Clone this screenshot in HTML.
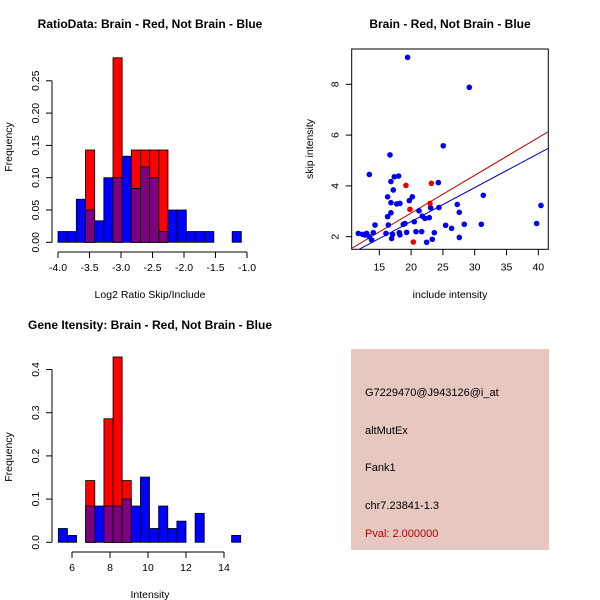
<!DOCTYPE html>
<html><head><meta charset="utf-8"><style>
body{margin:0;background:#fff}
svg{display:block;font-family:"Liberation Sans",sans-serif}
</style></head><body>
<svg id="c" width="600" height="600" viewBox="0 0 600 600" xmlns="http://www.w3.org/2000/svg">
<rect width="600" height="600" fill="#fff"/>
<g id="g1"></g>
<g id="g2"></g>
<g id="g3"></g>
<g>
<rect x="351" y="349" width="198" height="201" fill="#e6c8c0"/>
<text x="365" y="396" font-size="11">G7229470@J943126@i_at</text>
<text x="365" y="434" font-size="11">altMutEx</text>
<text x="365" y="471" font-size="11">Fank1</text>
<text x="365" y="509" font-size="11">chr7.23841-1.3</text>
<text x="365" y="537" font-size="11" fill="#b00000">Pval: 2.000000</text>
</g>
</svg>
<script>
// Ratio histogram data
const ratioBinStart = -4.0;
const ratioBinWidth = 0.1455;
const ratioBlue = [0.0167,0.0167,0.0667,0.05,0.0333,0.1,0.1,0.1333,0.0833,0.1167,0.1,0.0167,0.05,0.05,0.0167,0.0167,0.0167,0,0,0.0167];
const ratioRed  = [0,0,0,0.1429,0,0,0.2857,0,0.1429,0.1429,0.1429,0.1429,0,0,0,0,0,0,0,0];
const ratioXTicks = [-4.0,-3.5,-3.0,-2.5,-2.0,-1.5,-1.0];
const ratioYTicks = [0,0.05,0.10,0.15,0.20,0.25];
// Intensity histogram data
const intBinStart = 5.28;
const intBinWidth = 0.48;
const intBlue = [0.032,0.016,0,0.084,0.084,0.084,0.084,0.1,0.084,0.151,0.032,0.084,0.032,0.049,0,0.067,0,0,0,0.016];
const intRed  = [0,0,0,0.143,0,0.286,0.429,0.143,0,0,0,0,0,0,0,0,0,0,0,0];
const intXTicks = [6,8,10,12,14];
const intYTicks = [0,0.1,0.2,0.3,0.4];
// Scatter data
const blueX = [11.7,12.38,12.75,13.0,13.43,13.8,14.06,14.32,13.43,16.68,16.83,17.36,18.04,17.2,16.31,16.83,17.73,18.25,16.31,16.83,16.42,16.05,17.1,16.94,18.14,18.25,18.77,19.04,19.3,19.72,20.19,20.5,20.77,21.24,21.66,21.76,22.18,22.44,22.86,23.07,23.33,23.65,24.38,24.28,19.45,25.06,25.43,26.37,27.26,27.58,27.58,28.36,29.15,31.04,31.35,39.74,40.42];
const blueY = [2.13,2.09,2.07,2.13,2.0,1.87,2.16,2.46,4.45,5.22,4.17,4.36,4.39,3.84,3.57,3.34,3.29,3.31,2.79,2.94,2.46,2.13,2.09,1.93,2.16,2.07,2.49,2.52,2.17,3.42,3.57,2.59,2.2,3.02,2.2,2.81,2.72,1.78,2.75,3.14,1.9,2.16,3.15,4.13,9.06,5.58,2.45,2.33,3.27,2.96,1.97,2.49,7.88,2.49,3.63,2.52,3.23];
const redX = [19.19,19.82,20.35,23.18,22.97];
const redY = [4.02,3.08,1.79,4.1,3.31];
const redFit = [-0.04,0.1485];
const blueFit = [-0.08,0.1338];
const scXTicks = [15,20,25,30,35,40];
const scYTicks = [2,4,6,8];

const NS="http://www.w3.org/2000/svg";
function mk(parent,tag,attrs,txt){const e=document.createElementNS(NS,tag);for(const k in attrs)e.setAttribute(k,attrs[k]);if(txt!==undefined)e.textContent=txt;parent.appendChild(e);return e;}

function hist(g,o){
  const sx=v=>o.x0+(v-o.v0)*o.kx, sy=v=>o.y0-v*o.ky;
  const n=o.blue.length;
  for(let i=0;i<n;i++){
    const a=sx(o.bs+i*o.bw), b=sx(o.bs+(i+1)*o.bw);
    const bl=o.blue[i], rd=o.red[i], mn=Math.min(bl,rd);
    if(bl>0){const r=mk(g,'rect',{x:a,y:sy(bl),width:b-a,height:sy(0)-sy(bl),fill:'#0000ff',stroke:'#000','stroke-width':0.8});
      
      }
    if(rd>0){const r=mk(g,'rect',{x:a,y:sy(rd),width:b-a,height:sy(0)-sy(rd),fill:'#ff0000',stroke:'#000','stroke-width':0.8});
      
      }
    if(mn>0){const r=mk(g,'rect',{x:a,y:sy(mn),width:b-a,height:sy(0)-sy(mn),fill:'#7f007f',stroke:'#000','stroke-width':0.8});
      
      }
  }
  const xa=o.xt;
  mk(g,'line',{x1:sx(xa[0]),x2:sx(xa[xa.length-1]),y1:o.xay,y2:o.xay,stroke:'#000'});
  xa.forEach(t=>{mk(g,'line',{x1:sx(t),x2:sx(t),y1:o.xay,y2:o.xay+6,stroke:'#000'});
    const l=mk(g,'text',{x:sx(t),y:o.xay+19,'font-size':10.5,'text-anchor':'middle'},o.fmtx(t));
    
    });
  const ya=o.yt;
  mk(g,'line',{x1:o.yax,x2:o.yax,y1:sy(ya[0]),y2:sy(ya[ya.length-1]),stroke:'#000'});
  ya.forEach(t=>{mk(g,'line',{x1:o.yax,x2:o.yax-6,y1:sy(t),y2:sy(t),stroke:'#000'});
    const l=mk(g,'text',{x:0,y:0,'font-size':10.5,'text-anchor':'middle',transform:`translate(${o.yax-13},${sy(t)}) rotate(-90)`},o.fmty(t));
    
    });
}
const g1=document.getElementById('g1');
hist(g1,{x0:58,v0:-4,kx:63,y0:242.3,ky:646,bs:ratioBinStart,bw:ratioBinWidth,blue:ratioBlue,red:ratioRed,xt:ratioXTicks,yt:ratioYTicks,xay:252,yax:52,fmtx:t=>t.toFixed(1),fmty:t=>t===0?'0.00':t.toFixed(2)});
const g3=document.getElementById('g3');
hist(g3,{x0:72,v0:6,kx:19,y0:542.3,ky:432,bs:intBinStart,bw:intBinWidth,blue:intBlue,red:intRed,xt:intXTicks,yt:intYTicks,xay:552,yax:52,fmtx:t=>String(t),fmty:t=>t===0?'0.0':String(t)});

function lbl(g,x,y,t,name,extra){const e=mk(g,'text',Object.assign({x:x,y:y,'font-size':10.5,'text-anchor':'middle'},extra||{}),t);
  
  return e;}
lbl(g1,150,28,'RatioData: Brain - Red, Not Brain - Blue','title',{'font-weight':'bold','font-size':12});
lbl(g1,150,298,'Log2 Ratio Skip/Include','x-axis-title');
lbl(g1,0,0,'Frequency','y-axis-title',{transform:'translate(12,147) rotate(-90)'});
lbl(g3,150,329,'Gene Itensity: Brain - Red, Not Brain - Blue','title',{'font-weight':'bold','font-size':12});
lbl(g3,150,598,'Intensity','x-axis-title');
lbl(g3,0,0,'Frequency','y-axis-title',{transform:'translate(12,457) rotate(-90)'});

const g2=document.getElementById('g2');
const L=351.7,R=548.3,T=49,B=249.3;
const sx=v=>379.3+(v-15)*6.36, sy=v=>236.7-(v-2)*25.4;
mk(g2,'rect',{x:L,y:T,width:R-L,height:B-T,fill:'none',stroke:'#000'});
lbl(g2,450,28,'Brain - Red, Not Brain - Blue','title',{'font-weight':'bold','font-size':12});
lbl(g2,450,298,'include intensity','x-axis-title');
lbl(g2,0,0,'skip intensity','y-axis-title',{transform:'translate(313,149) rotate(-90)'});
scXTicks.forEach(t=>{mk(g2,'line',{x1:sx(t),x2:sx(t),y1:B,y2:B+6,stroke:'#000'});lbl(g2,sx(t),B+21,String(t),'x-tick-label');});
scYTicks.forEach(t=>{mk(g2,'line',{x1:L,x2:L-6,y1:sy(t),y2:sy(t),stroke:'#000'});lbl(g2,0,0,String(t),'y-tick-label',{transform:`translate(${L-13},${sy(t)}) rotate(-90)`});});
const defs=mk(g2,'clipPath',{id:'clp'});mk(defs,'rect',{x:L,y:T,width:R-L,height:B-T});
function fit(c,col,name){const xa=10,xb=42;const l=mk(g2,'line',{x1:sx(xa),y1:sy(c[0]+c[1]*xa),x2:sx(xb),y2:sy(c[0]+c[1]*xb),stroke:col,'stroke-width':1,'clip-path':'url(#clp)'});
  
  }
fit(redFit,'#c00000','red-fit-line');
fit(blueFit,'#0000c0','blue-fit-line');
blueX.forEach((x,i)=>{const c=mk(g2,'circle',{cx:sx(x),cy:sy(blueY[i]),r:2.8,fill:'#0000ee'});
  
  });
redX.forEach((x,i)=>{const c=mk(g2,'circle',{cx:sx(x),cy:sy(redY[i]),r:2.8,fill:'#ee0000'});
  
  });
</script>
</body></html>
